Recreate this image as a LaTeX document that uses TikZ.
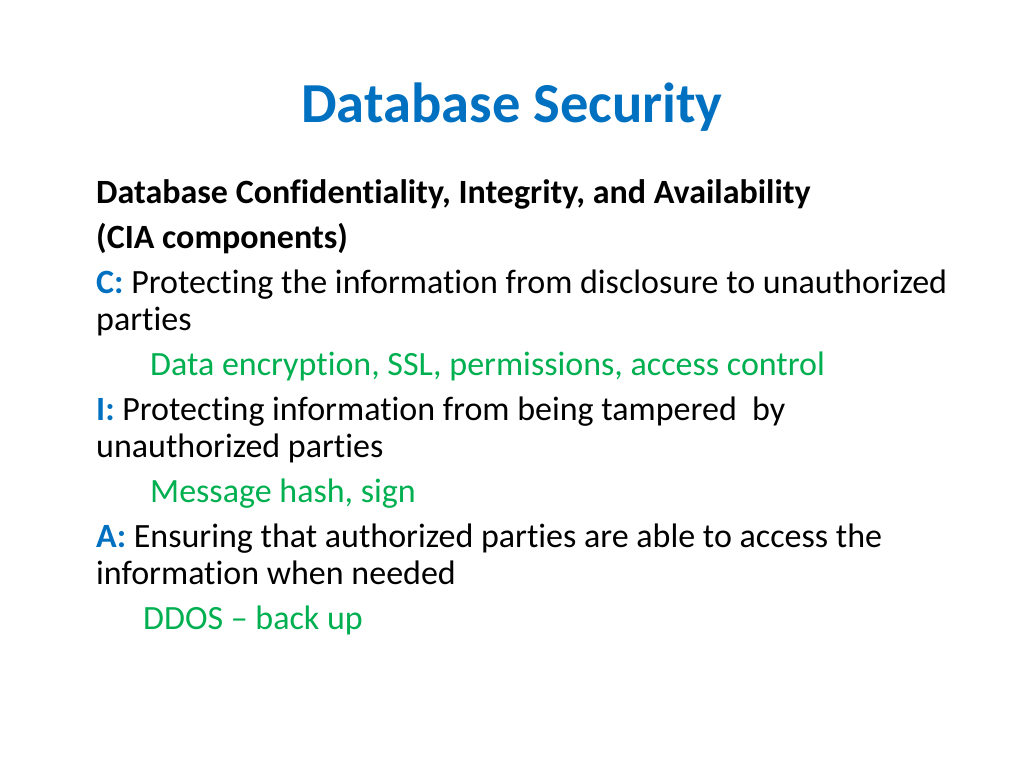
\documentclass[tikz,border=0pt]{standalone}
\usepackage{fontspec}
\setmainfont[Ligatures=NoCommon]{Carlito}
\definecolor{titleblue}{HTML}{0070C0}
\definecolor{txtgreen}{HTML}{00B050}
\begin{document}
\begin{tikzpicture}[x=1pt,y=-1pt,
  line/.style={anchor=base west, inner sep=0pt, font=\fontsize{34}{40}\selectfont},
  sub/.style={line, text=txtgreen},
  ttl/.style={anchor=base, inner sep=0pt, text=titleblue, font=\fontsize{56.5}{64}\selectfont\bfseries}]
\useasboundingbox (0,0) rectangle (1024,768);
\node[ttl] (title) at (512,122) {Database Security};
\node[line,font=\fontsize{34}{40}\selectfont\bfseries] (l1) at (96,203) {Database Confidentiality, Integrity, and Availability};
\node[line,font=\fontsize{34}{40}\selectfont\bfseries] (l2) at (96,248) {(CIA components)};
\node[line] (l3) at (96,293) {\textcolor{titleblue}{\bfseries C:} Protecting the information from disclosure to unauthorized};
\node[line] (l4) at (96,330) {parties};
\node[sub] (l5) at (150,375) {Data encryption, SSL, permissions, access control};
\node[line] (l6) at (96,420) {\textcolor{titleblue}{\bfseries I:} Protecting information from being tampered\ \ by};
\node[line] (l7) at (96,457) {unauthorized parties};
\node[sub] (l8) at (150,502) {Message hash, sign};
\node[line] (l9) at (96,547) {\textcolor{titleblue}{\bfseries A:} Ensuring that authorized parties are able to access the};
\node[line] (l10) at (96,584) {information when needed};
\node[sub] (l11) at (143,629) {DDOS -- back up};
\end{tikzpicture}
\end{document}
